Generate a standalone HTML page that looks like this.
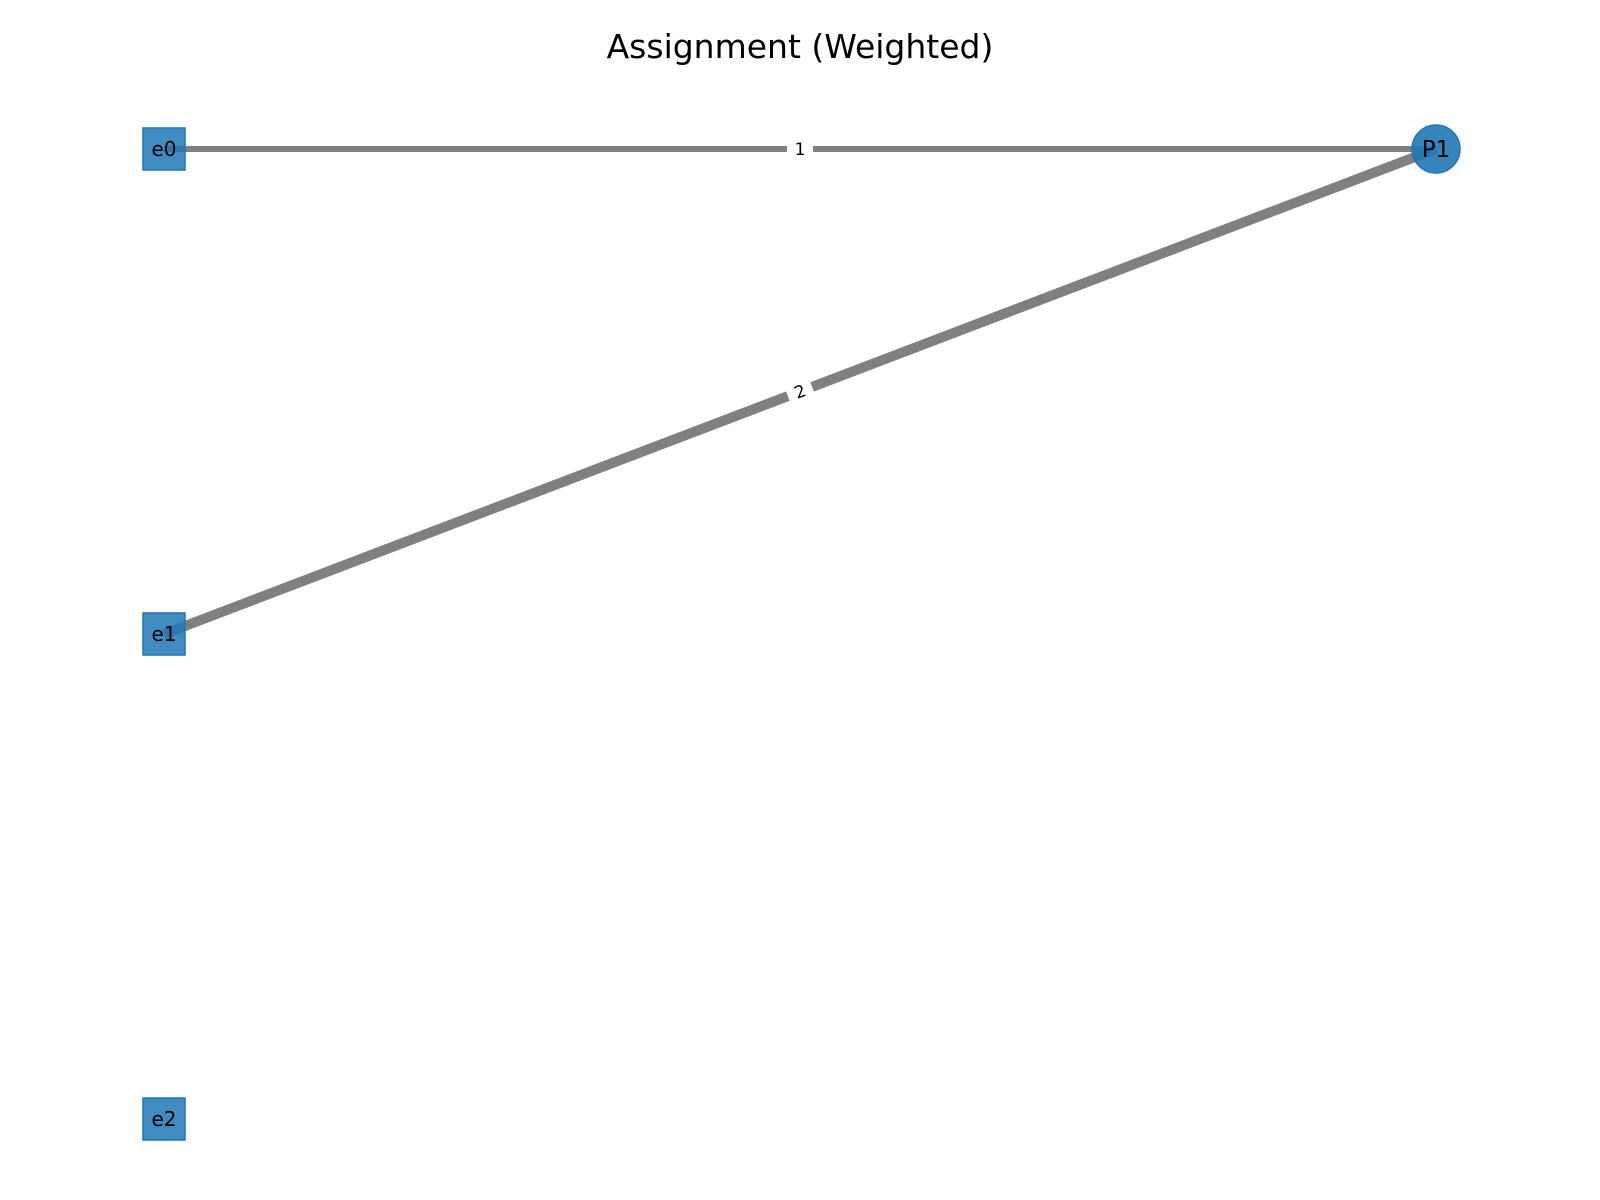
<!DOCTYPE html>
<html><head><meta charset="utf-8"><style>
html,body{margin:0;padding:0;background:#fff;}
svg{display:block;font-family:"DejaVu Sans","Liberation Sans",sans-serif;}
</style></head><body>
<svg id="chart" width="1600" height="1200" viewBox="0 0 1600 1200">
<text x="800" y="58" text-anchor="middle" font-size="33" fill="#000">Assignment (Weighted)</text>
<g id="edges"></g><g id="elabels"></g><g id="nodes"></g>
</svg>
<script>
const nodeNames = ["e0","e1","e2","P1"];
const nodeKinds = ["square","square","square","circle"];
const nodeX = [0,0,0,1];
const nodeY = [0,1,2,0];
const edgeFrom = ["e0","e1"];
const edgeTo = ["P1","P1"];
const edgeWeights = [1,2];

const NS="http://www.w3.org/2000/svg";
const sx=v=>164+v*(1436-164);
const sy=v=>149+v*(634-149);
function mk(t,a){const e=document.createElementNS(NS,t);for(const k in a)e.setAttribute(k,a[k]);return e;}
const pos={};
nodeNames.forEach((n,i)=>pos[n]=[sx(nodeX[i]),sy(nodeY[i])]);
const eg=document.getElementById('edges'),lg=document.getElementById('elabels'),ng=document.getElementById('nodes');
edgeFrom.forEach((f,i)=>{
  const a=pos[f],b=pos[edgeTo[i]],w=edgeWeights[i];
  const l=mk('line',{x1:a[0],y1:a[1],x2:b[0],y2:b[1],stroke:'#808080','stroke-width':4*w+2});
  
  
  eg.appendChild(l);
  const mx=(a[0]+b[0])/2,my=(a[1]+b[1])/2;
  let ang=Math.atan2(b[1]-a[1],b[0]-a[0])*180/Math.PI;
  if(ang>90)ang-=180;if(ang<-90)ang+=180;
  const g=mk('g',{transform:`translate(${mx},${my}) rotate(${ang})`});
  
  
  g.appendChild(mk('rect',{x:-13,y:-12,width:26,height:24,fill:'#fff'}));
  const t=mk('text',{x:0,y:6,'text-anchor':'middle','font-size':17,fill:'#000'});
  t.textContent=String(w);g.appendChild(t);lg.appendChild(g);
});
nodeNames.forEach((n,i)=>{
  const [x,y]=pos[n];
  const g=mk('g',{});
  
  
  if(nodeKinds[i]==='square')g.appendChild(mk('rect',{x:x-21,y:y-21,width:42,height:42,fill:'#1f77b4','fill-opacity':0.85,stroke:'#1f77b4','stroke-width':1.5}));
  else g.appendChild(mk('circle',{cx:x,cy:y,r:24,fill:'#1f77b4','fill-opacity':0.9,stroke:'#1f77b4','stroke-width':1.5}));
  const t=mk('text',{x:x,y:y+(nodeKinds[i]==='circle'?8:7),'text-anchor':'middle','font-size':nodeKinds[i]==='circle'?23:20,fill:'#000'});
  t.textContent=n;g.appendChild(t);ng.appendChild(g);
});
</script>
</body></html>
